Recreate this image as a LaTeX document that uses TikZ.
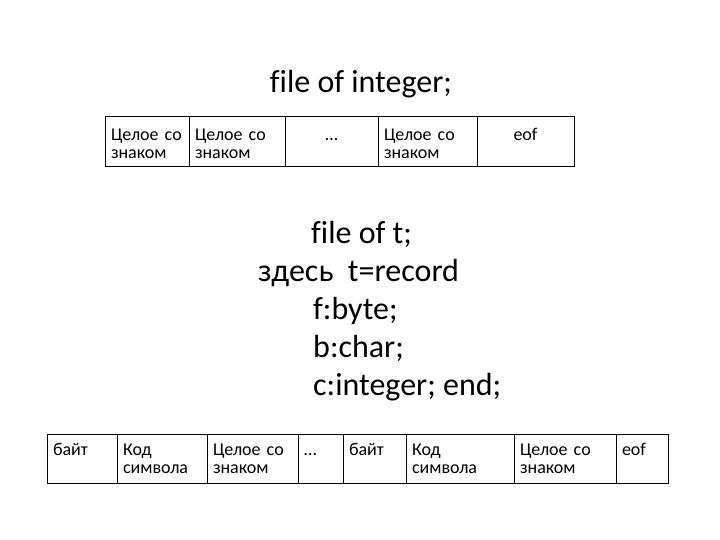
\documentclass[tikz,border=0pt]{standalone}
\usepackage{fontspec}
\setmainfont[Ligatures=NoCommon]{Carlito}
\usetikzlibrary{positioning}

\begin{document}
\begin{tikzpicture}[x=1pt,y=-1pt,node distance=0pt,
    cell/.style={draw,line width=0.9pt,outer sep=0pt,inner xsep=6pt,inner ysep=0pt,
      align=left,font=\fontsize{18}{18}\selectfont},
    top row/.style={cell,text height=25pt,text depth=25pt},
    low row/.style={cell,text height=21pt,text depth=28pt},
    big/.style={font=\fontsize{32}{38}\selectfont,inner sep=0pt}]
  \useasboundingbox (0,0) rectangle (720,540);
  \node[big,anchor=base] (head) at (361,93) {file of integer;};
  % file of integer
  \node[top row,text width=72pt,anchor=north west] (int_1) at (105,116) {Целое~со\\знаком};
  \node[top row,text width=84pt] (int_2) [right=of int_1] {Целое~со\\знаком};
  \node[top row,text width=81pt,align=center] (int_3) [right=of int_2] {…};
  \node[top row,text width=87pt] (int_4) [right=of int_3] {Целое~со\\знаком};
  \node[top row,text width=85pt,align=center] (int_5) [right=of int_4] {eof};
  % record type
  \node[big,align=left,anchor=north west] (rec) at (258,221)
    {\hspace*{53pt}file of t;\\здесь\ \ t=record\\\hspace*{55pt}f:byte;\\
     \hspace*{55pt}b:char;\\\hspace*{55pt}c:integer; end;};
  % file of t
  \node[low row,text width=58pt,anchor=north west] (t_1) at (47,434) {байт};
  \node[low row,text width=78pt] (t_2) [right=of t_1] {Код\\символа};
  \node[low row,text width=79pt] (t_3) [right=of t_2] {Целое~со\\знаком};
  \node[low row,text width=33pt] (t_4) [right=of t_3] {…};
  \node[low row,text width=51pt] (t_5) [right=of t_4] {байт};
  \node[low row,text width=96pt] (t_6) [right=of t_5] {Код\\символа};
  \node[low row,text width=90pt] (t_7) [right=of t_6] {Целое~со\\знаком};
  \node[low row,text width=40pt] (t_8) [right=of t_7] {eof};
\end{tikzpicture}
\end{document}
